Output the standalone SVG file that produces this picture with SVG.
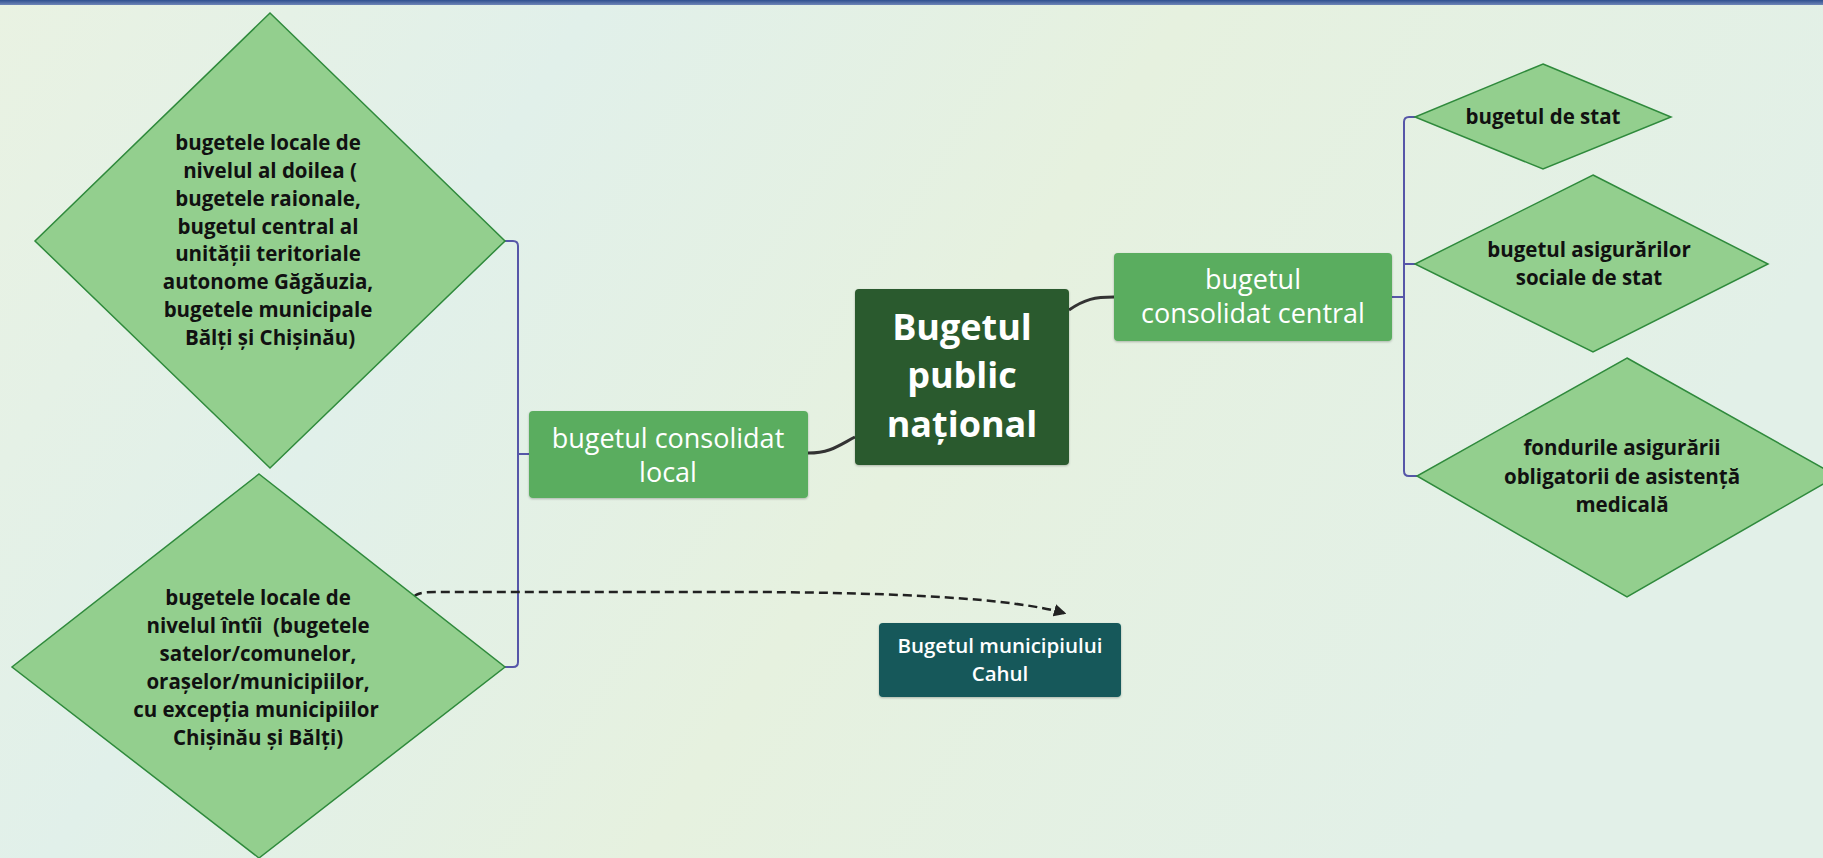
<svg xmlns="http://www.w3.org/2000/svg" width="1823" height="858" viewBox="0 0 1823 858">
<defs>
<linearGradient id="bg" x1="0" y1="0" x2="1" y2="0.3">
<stop offset="0" stop-color="#e9f2e2"/>
<stop offset="0.3" stop-color="#e1f0ea"/>
<stop offset="0.6" stop-color="#e6f1df"/>
<stop offset="1" stop-color="#e2f0e8"/>
</linearGradient>
<linearGradient id="bar" x1="0" y1="0" x2="0" y2="1">
<stop offset="0" stop-color="#2f4f8f"/>
<stop offset="1" stop-color="#6f86b8"/>
</linearGradient>
<marker id="arr" viewBox="0 0 10 10" refX="8" refY="5" markerWidth="5" markerHeight="5" orient="auto">
<path d="M0,0 L10,5 L0,10 z" fill="#222"/>
</marker>
<filter id="sh" x="-5%" y="-5%" width="110%" height="115%">
<feDropShadow dx="0" dy="1" stdDeviation="1" flood-color="#000" flood-opacity="0.25"/>
</filter>
</defs>
<style>
.dia{fill:#93cf8e;stroke:#2f8a3c;stroke-width:1.5}
.dt{font-family:"Open Sans","Liberation Sans",sans-serif;font-weight:700;font-size:20.5px;fill:#111;text-anchor:middle}
.box{fill:#5aad5f;filter:url(#sh)}
.bt{font-family:"Open Sans","Liberation Sans",sans-serif;font-weight:400;font-size:27px;fill:#fff;text-anchor:middle}
.br{fill:none;stroke:#5656a8;stroke-width:2}
.cv{fill:none;stroke:#333;stroke-width:3}
</style>
<rect width="1823" height="858" fill="url(#bg)"/>
<rect width="1823" height="5" fill="url(#bar)"/>

<g id="connectors">
<path class="br" d="M505,241 H513 Q518,241 518,246 V662 Q518,667 513,667 H505"/>
<path class="br" d="M518,454 H529"/>
<path class="br" d="M1415,117 H1409 Q1404,117 1404,122 V471 Q1404,476 1409,476 H1417"/>
<path class="br" d="M1404,264 H1415"/>
<path class="br" d="M1392,297 H1404"/>
<path class="cv" d="M808,453 C830,453 838,446 855,437"/>
<path class="cv" d="M1069,310 C1085,299 1095,297 1114,297"/>
<path d="M414,597 Q417,592 435,592 L760,592 C900,593 1010,598 1064,613" fill="none" stroke="#222" stroke-width="2.5" stroke-dasharray="9,5" marker-end="url(#arr)"/>
</g>

<g id="n-doilea">
<polygon class="dia" points="270,13 505,241 270,468 35,241"/>
<text class="dt"><tspan x="268" y="150">bugetele locale de</tspan><tspan x="270" y="178">nivelul al doilea (</tspan><tspan x="268" y="206">bugetele raionale,</tspan><tspan x="268" y="234">bugetul central al</tspan><tspan x="268" y="261">unității teritoriale</tspan><tspan x="268" y="289">autonome Găgăuzia,</tspan><tspan x="268" y="317">bugetele municipale</tspan><tspan x="270" y="345">Bălți și Chișinău)</tspan></text>
</g>

<g id="n-intii">
<polygon class="dia" points="259,474 505,667 259,858 12,667"/>
<text class="dt"><tspan x="258" y="605">bugetele locale de</tspan><tspan x="258" y="633">nivelul întîi&#160; (bugetele</tspan><tspan x="258" y="661">satelor/comunelor,</tspan><tspan x="258" y="689">orașelor/municipiilor,</tspan><tspan x="256" y="717">cu excepția municipiilor</tspan><tspan x="258" y="745">Chișinău și Bălți)</tspan></text>
</g>

<g id="n-local">
<rect class="box" x="529" y="411" width="279" height="87" rx="4"/>
<text class="bt"><tspan x="668" y="448">bugetul consolidat</tspan><tspan x="668" y="482">local</tspan></text>
</g>

<g id="n-national">
<rect x="855" y="289" width="214" height="176" rx="4" fill="#2b5a2d" filter="url(#sh)"/>
<text font-family="Open Sans, Liberation Sans, sans-serif" font-weight="700" font-size="36" fill="#fff" text-anchor="middle"><tspan x="962" y="340">Bugetul</tspan><tspan x="962" y="388">public</tspan><tspan x="962" y="437">național</tspan></text>
</g>

<g id="n-central">
<rect class="box" x="1114" y="253" width="278" height="88" rx="4"/>
<text class="bt"><tspan x="1253" y="289">bugetul</tspan><tspan x="1253" y="323">consolidat central</tspan></text>
</g>

<g id="n-stat">
<polygon class="dia" points="1543,64 1671,117 1543,169 1415,117"/>
<text class="dt" x="1543" y="124">bugetul de stat</text>
</g>

<g id="n-sociale">
<polygon class="dia" points="1593,175 1768,264 1593,352 1415,264"/>
<text class="dt"><tspan x="1589" y="257">bugetul asigurărilor</tspan><tspan x="1589" y="285">sociale de stat</tspan></text>
</g>

<g id="n-medicala">
<polygon class="dia" points="1627,358 1837,476 1627,597 1417,476"/>
<text class="dt"><tspan x="1622" y="455">fondurile asigurării</tspan><tspan x="1622" y="484">obligatorii de asistență</tspan><tspan x="1622" y="512">medicală</tspan></text>
</g>

<g id="n-cahul">
<rect x="879" y="623" width="242" height="74" rx="4" fill="#12595a" filter="url(#sh)"/>
<text font-family="Open Sans, Liberation Sans, sans-serif" font-weight="600" font-size="20.5" fill="#fff" text-anchor="middle"><tspan x="1000" y="653">Bugetul municipiului</tspan><tspan x="1000" y="681">Cahul</tspan></text>
</g>
</svg>
